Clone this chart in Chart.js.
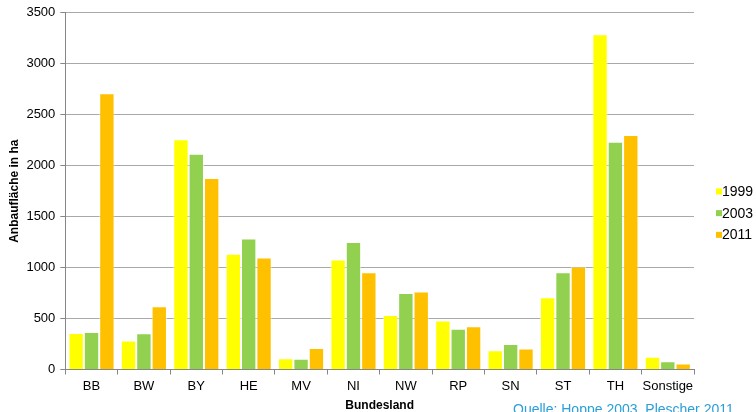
<!DOCTYPE html>
<html>
<head>
<meta charset="utf-8">
<script src="https://cdn.jsdelivr.net/npm/chart.js@4"></script>
<style>
    html, body { margin: 0; padding: 0; background: #fff; }
    #wrap { position: relative; width: 756px; height: 412px; overflow: hidden; }
    #source { position: absolute; left: 513px; top: 401px; font: 14px "Liberation Sans", Arial, sans-serif; color: #2A9FD8; white-space: nowrap; }
</style>
</head>
<body>
<div id="wrap">
    <canvas id="chart" width="756" height="412"></canvas>
    <div id="source">Quelle: Hoppe 2003, Plescher 2011</div>
</div>
<script>
// --- DATA ---
const bundeslaender = ['BB', 'BW', 'BY', 'HE', 'MV', 'NI', 'NW', 'RP', 'SN', 'ST', 'TH', 'Sonstige'];
const flaeche1999 = [358, 284, 2259, 1135, 110, 1080, 535, 480, 190, 710, 3290, 125];
const flaeche2003 = [368, 356, 2116, 1285, 105, 1250, 750, 400, 250, 955, 2235, 80];
const flaeche2011 = [2710, 620, 1880, 1100, 210, 955, 765, 425, 205, 1010, 2300, 60];
const yTicks = [0, 500, 1000, 1500, 2000, 2500, 3000, 3500];

const fontFamily = '"Liberation Sans", Arial, sans-serif';

const makeSet = (label, data, color) => ({
    label, data,
    backgroundColor: color,
    borderColor: 'rgba(255,255,255,0.6)',
    borderWidth: 1,
    categoryPercentage: 0.88,
    barPercentage: 1.0
});

// Legend drawn by hand: small squares close to the text, as in the original
const sideLegend = {
    id: 'sideLegend',
    afterDraw(chart) {
        const { ctx, chartArea } = chart;
        const x = chartArea.right + 22;
        const midY = (chartArea.top + chartArea.bottom) / 2 + 22;
        const step = 21.7;
        ctx.save();
        ctx.font = `14px ${fontFamily}`;
        ctx.textBaseline = 'middle';
        chart.data.datasets.forEach((ds, i) => {
            const y = midY + (i - 1) * step;
            ctx.fillStyle = ds.backgroundColor;
            ctx.fillRect(x, y - 3, 6, 6);
            ctx.fillStyle = '#000';
            ctx.fillText(ds.label, x + 6, y + 0.5);
        });
        ctx.restore();
    }
};

// --- CHART ---
const ctx = document.getElementById('chart').getContext('2d');
new Chart(ctx, {
    type: 'bar',
    data: {
        labels: bundeslaender,
        datasets: [
            makeSet('1999', flaeche1999, '#FFFF00'),
            makeSet('2003', flaeche2003, '#92D050'),
            makeSet('2011', flaeche2011, '#FFC000')
        ]
    },
    plugins: [sideLegend],
    options: {
        responsive: false,
        animation: false,
        layout: { padding: { top: 0, right: 62, bottom: 0, left: 4 } },
        plugins: {
            legend: { display: false },
            tooltip: { enabled: false }
        },
        scales: {
            x: {
                grid: { offset: true, drawOnChartArea: false, drawTicks: true, tickLength: 5, color: '#868686' },
                border: { color: '#868686' },
                ticks: { color: '#000', font: { family: fontFamily, size: 13, lineHeight: 1.1 }, padding: 5, maxRotation: 0, autoSkip: false },
                title: { display: true, text: 'Bundesland', color: '#000', font: { family: fontFamily, size: 12, weight: 'bold', lineHeight: 1.1 }, padding: { top: 0, bottom: 0 } }
            },
            y: {
                min: 0, max: 3500,
                afterBuildTicks: axis => { axis.ticks = yTicks.map(v => ({ value: v })); },
                grid: { color: '#a9a9a9', lineWidth: 1, tickLength: 5, tickColor: '#868686' },
                border: { color: '#868686' },
                ticks: { color: '#000', font: { family: fontFamily, size: 13 }, padding: 5, callback: v => String(v) },
                title: { display: true, text: 'Anbaufläche in ha', color: '#000', font: { family: fontFamily, size: 12, weight: 'bold' }, padding: { top: 3, bottom: 0 } }
            }
        }
    }
});
</script>
</body>
</html>
